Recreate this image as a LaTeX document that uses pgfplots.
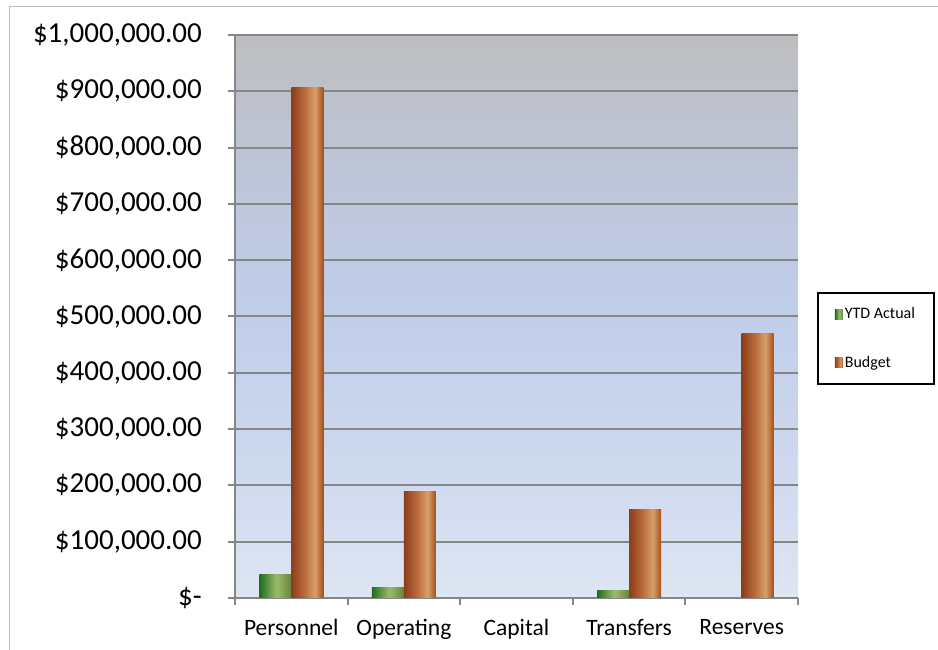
\documentclass[border=0pt]{standalone}
\usepackage{pgfplots}
\pgfplotsset{compat=1.18}
\usepackage{fontspec}
\setmainfont{Carlito}

\definecolor{gridgray}{RGB}{134,134,134}
\definecolor{framegray}{RGB}{190,190,190}
\definecolor{bg1}{RGB}{222,229,243}
\definecolor{bg2}{RGB}{205,216,238}
\definecolor{bg3}{RGB}{192,205,233}
\definecolor{bg4}{RGB}{190,196,213}
\definecolor{bg5}{RGB}{190,190,192}
\definecolor{br1}{RGB}{140,62,25}
\definecolor{br2}{RGB}{185,105,60}
\definecolor{br3}{RGB}{216,158,108}
\definecolor{br4}{RGB}{165,80,25}
\definecolor{gr1}{RGB}{30,110,30}
\definecolor{gr2}{RGB}{155,188,105}
\definecolor{gr3}{RGB}{105,130,65}

\pgfdeclarehorizontalshading{brownbar}{100bp}{color(0bp)=(br1); color(25bp)=(br1); color(45bp)=(br2); color(62bp)=(br3); color(75bp)=(br4); color(100bp)=(br4)}
\pgfdeclarehorizontalshading{greenbar}{100bp}{color(0bp)=(gr1); color(25bp)=(gr1); color(52bp)=(gr2); color(75bp)=(gr3); color(100bp)=(gr3)}
\pgfdeclareverticalshading{plotbg}{100bp}{color(0bp)=(bg1); color(25bp)=(bg1); color(38bp)=(bg2); color(51bp)=(bg3); color(65bp)=(bg4); color(75bp)=(bg5); color(100bp)=(bg5)}

\pgfplotsset{
  actual/.style={ybar, bar width=32pt, bar shift=-16pt, draw=none, shading=greenbar,
    legend image code/.code={\fill[shading=greenbar] (0pt,-5pt) rectangle (8pt,5pt);}},
  budget/.style={ybar, bar width=32pt, bar shift=16pt, draw=none, shading=brownbar,
    legend image code/.code={\fill[shading=brownbar] (0pt,-5pt) rectangle (8pt,5pt);}},
}

\begin{document}
\begin{tikzpicture}[x=1pt,y=1pt]
\useasboundingbox (0,0) rectangle (938,650);
\draw[line width=1pt, framegray] (9,0) -- (9,643) -- (938,643);
\begin{axis}[
    at={(235pt,52pt)}, anchor=south west,
    width=563pt, height=563pt, scale only axis,
    xmin=-0.5, xmax=4.5,
    ymin=0, ymax=1000000,
    axis x line*=bottom, axis y line*=left,
    axis line style={gridgray, line width=2pt},
    tick style={gridgray, line width=2pt},
    tick align=outside,
    major tick length=7pt, minor tick length=7pt,
    xtick={0,1,2,3,4},
    xticklabels={Personnel,Operating,Capital,Transfers,Reserves},
    major x tick style={draw=none},
    minor xtick={-0.5,0.5,1.5,2.5,3.5,4.5},
    ytick={0,100000,200000,300000,400000,500000,600000,700000,800000,900000,1000000},
    yticklabels={{\$-\hspace{13pt}},{\$100,000.00},{\$200,000.00},{\$300,000.00},{\$400,000.00},{\$500,000.00},{\$600,000.00},{\$700,000.00},{\$800,000.00},{\$900,000.00},{\$1,000,000.00}},
    scaled y ticks=false,
    ymajorgrids,
    grid style={gridgray, line width=2pt},
    yticklabel style={font=\fontsize{29}{29}\selectfont, anchor=east, inner sep=0pt, xshift=-26pt},
    xticklabel style={font=\fontsize{23.5}{23.5}\selectfont, anchor=north, inner sep=0pt, yshift=-14pt},
    axis background/.style={shading=plotbg},
    legend style={at={(1.034,0.461)}, anchor=west, draw=black, line width=1.5pt,
        font=\fontsize{16}{16}\selectfont, inner xsep=17pt, inner ysep=13pt,
        row sep=32pt, fill=white},
    legend cell align=left,
]
% first bar of each series carries the legend entry
\addplot[actual] coordinates {(0,41000)};
\addlegendentry{YTD Actual}
\addplot[budget] coordinates {(0,906000)};
\addlegendentry{Budget}
% YTD Actual
\addplot[actual, forget plot] coordinates {(1,19500)};
\addplot[actual, forget plot] coordinates {(3,12500)};
% Budget
\addplot[budget, forget plot] coordinates {(1,190000)};
\addplot[budget, forget plot] coordinates {(3,158000)};
\addplot[budget, forget plot] coordinates {(4,469000)};
\end{axis}
\end{tikzpicture}
\end{document}
